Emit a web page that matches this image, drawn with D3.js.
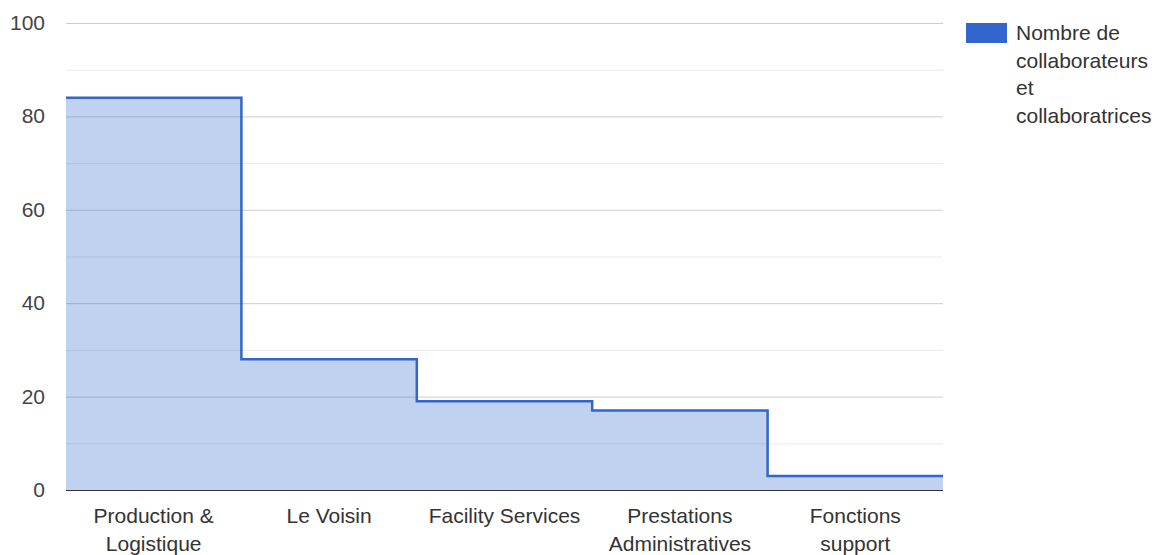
<!DOCTYPE html>
<html>
<head>
<meta charset="utf-8">
<script src="https://cdn.jsdelivr.net/npm/d3@7"></script>
<style>
	body { margin: 0; background: #fff; }
	svg text { font-family: Arial, "Liberation Sans", sans-serif; }
</style>
</head>
<body>
<div id="chart"></div>
<script>
	// Data
	const categories = [
		['Production &', 'Logistique'],
		['Le Voisin'],
		['Facility Services'],
		['Prestations', 'Administratives'],
		['Fonctions', 'support']
	];
	const values = [84, 28, 19, 17, 3];
	const yTicks = [0, 20, 40, 60, 80, 100];
	const seriesName = ['Nombre de', 'collaborateurs', 'et', 'collaboratrices'];

	const width = 1155, height = 555;
	const margin = { left: 66, right: 212, top: 23, bottom: 65 };
	const color = '#3366cc';
	const fontSize = 21;

	const svg = d3.select('#chart')
		.append('svg')
		.attr('width', width)
		.attr('height', height);

	const x = d3.scaleBand()
		.domain(d3.range(values.length))
		.range([margin.left, width - margin.right]);

	const y = d3.scaleLinear()
		.domain([0, 100])
		.range([height - margin.bottom, margin.top]);

	// Minor gridlines
	svg.append('g')
		.selectAll('line')
		.data(d3.range(10, 100, 20))
		.enter().append('line')
		.attr('x1', x.range()[0]).attr('x2', x.range()[1])
		.attr('y1', function(d) { return y(d) + 0.5; })
		.attr('y2', function(d) { return y(d) + 0.5; })
		.attr('stroke', '#ebebeb');

	// Major gridlines
	svg.append('g')
		.selectAll('line')
		.data(yTicks.slice(1))
		.enter().append('line')
		.attr('x1', x.range()[0]).attr('x2', x.range()[1])
		.attr('y1', function(d) { return y(d) + 0.5; })
		.attr('y2', function(d) { return y(d) + 0.5; })
		.attr('stroke', '#cccccc');

	// Stepped area
	const pts = [];
	values.forEach(function(v, i) {
		pts.push([x(i), v]);
		pts.push([x(i) + x.bandwidth(), v]);
	});

	const area = d3.area()
		.x(function(d) { return d[0]; })
		.y0(y(0))
		.y1(function(d) { return y(d[1]); });

	const line = d3.line()
		.x(function(d) { return d[0]; })
		.y(function(d) { return y(d[1]); });

	svg.append('path')
		.datum(pts)
		.attr('d', area)
		.attr('fill', color)
		.attr('fill-opacity', 0.3);

	svg.append('path')
		.datum(pts)
		.attr('d', line)
		.attr('fill', 'none')
		.attr('stroke', color)
		.attr('stroke-width', 2.5);

	// Baseline
	svg.append('line')
		.attr('x1', x.range()[0]).attr('x2', x.range()[1])
		.attr('y1', y(0) + 0.5).attr('y2', y(0) + 0.5)
		.attr('stroke', '#333');

	// Y labels
	svg.append('g')
		.selectAll('text')
		.data(yTicks)
		.enter().append('text')
		.attr('x', 45)
		.attr('y', function(d) { return y(d) + 7; })
		.attr('text-anchor', 'end')
		.attr('font-size', fontSize)
		.attr('fill', '#444')
		.text(function(d) { return d; });

	// X labels
	const xl = svg.append('g')
		.selectAll('text')
		.data(categories)
		.enter().append('text')
		.attr('text-anchor', 'middle')
		.attr('font-size', fontSize)
		.attr('fill', '#333');

	xl.selectAll('tspan')
		.data(function(d, i) { return d.map(function(t) { return { t: t, i: i }; }); })
		.enter().append('tspan')
		.attr('x', function(d) { return x(d.i) + x.bandwidth() / 2; })
		.attr('y', function(d, j) { return 523 + j * 27.5; })
		.text(function(d) { return d.t; });

	// Legend
	svg.append('rect')
		.attr('x', 966).attr('y', 23)
		.attr('width', 41).attr('height', 20)
		.attr('fill', color);

	svg.append('g')
		.selectAll('text')
		.data(seriesName)
		.enter().append('text')
		.attr('x', 1016)
		.attr('y', function(d, i) { return 40 + i * 27.5; })
		.attr('font-size', fontSize)
		.attr('fill', '#333')
		.text(function(d) { return d; });
</script>
</body>
</html>
